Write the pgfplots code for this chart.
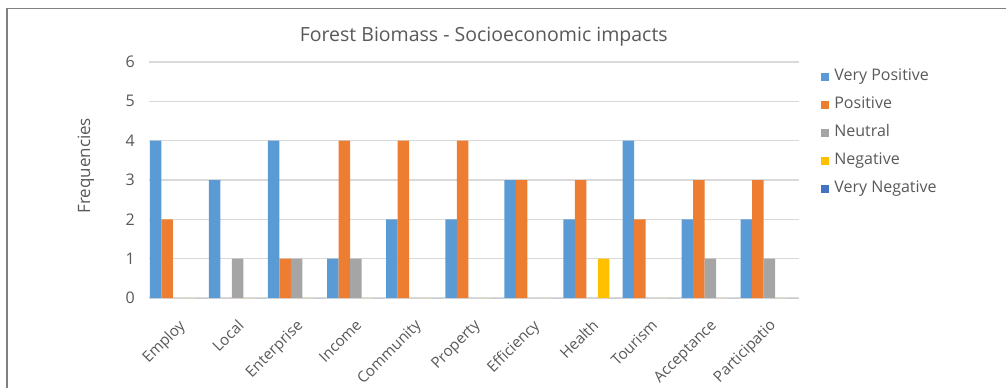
\documentclass[border=0pt]{standalone}
\usepackage{pgfplots}
\pgfplotsset{compat=1.18}
\usepackage{pgfplotstable}
\usepackage{fontspec}
\setmainfont{Open Sans}
\definecolor{cVP}{HTML}{5B9BD5}
\definecolor{cP}{HTML}{ED7D31}
\definecolor{cN}{HTML}{A5A5A5}
\definecolor{cNeg}{HTML}{FFC000}
\definecolor{cVN}{HTML}{4472C4}
\definecolor{txt}{HTML}{595959}
\definecolor{grid}{HTML}{D9D9D9}
\definecolor{frame}{HTML}{808080}
\pgfplotstableread{
x VP P N Neg VN
0 4 2 0 0 0
1 3 0 1 0 0
2 4 1 1 0 0
3 1 4 1 0 0
4 2 4 0 0 0
5 2 4 0 0 0
6 3 3 0 0 0
7 2 3 0 1 0
8 4 2 0 0 0
9 2 3 1 0 0
10 2 3 1 0 0
}\datatable
\begin{document}
\begin{tikzpicture}
\begin{axis}[
  scale only axis,
  width=650bp, height=236bp,
  xmin=-0.5, xmax=10.5,
  ymin=0, ymax=6,
  ytick={0,1,2,3,4,5,6},
  xtick=data,
  xticklabels={Employ,Local,Enterprise,Income,Community,Property,Efficiency,Health,Tourism,Acceptance,Participatio},
  ybar=0pt, bar width=11.5bp,
  ymajorgrids, grid style={color=grid, line width=1.3bp},
  axis line style={draw=none},
  tick style={draw=none},
  /pgf/number format/assume math mode=true,
  yticklabel style={font=\fontsize{16bp}{18bp}\selectfont, text=txt, inner sep=0pt, anchor=east, xshift=-14bp},
  xticklabel style={font=\fontsize{15.2bp}{18bp}\selectfont, text=txt, inner sep=0pt, xshift=-1bp, yshift=-16bp, rotate=45, anchor=north east},
  ylabel={Frequencies},
  ylabel style={font=\fontsize{17bp}{19bp}\selectfont, text=txt, at={(axis description cs:-0.097,0.56)}, anchor=center},
  every axis title shift=0pt,
  title={Forest Biomass - Socioeconomic impacts},
  title style={font=\fontsize{19.5bp}{22bp}\selectfont, text=txt, at={(axis description cs:0.515,1.106)}, anchor=center},
  legend style={at={(axis description cs:1.0295,0.977)}, anchor=north west, draw=none, fill=none,
    font=\fontsize{16bp}{18bp}\selectfont, text=txt, row sep=15bp,
    nodes={inner sep=0pt, text height=11bp, text depth=2bp}},
  legend cell align=left,
  sq/.style={legend image code/.code={\fill[##1] (0bp,-4.5bp) rectangle (8bp,3.5bp);}},
]
\addplot[fill=cVP, draw=none, sq] table[x=x, y=VP] {\datatable};
\addplot[fill=cP, draw=none, sq] table[x=x, y=P] {\datatable};
\addplot[fill=cN, draw=none, sq] table[x=x, y=N] {\datatable};
\addplot[fill=cNeg, draw=none, sq] table[x=x, y=Neg] {\datatable};
\addplot[fill=cVN, draw=none, sq] table[x=x, y=VN] {\datatable};
\legend{\hspace{5bp}Very Positive,\hspace{5bp}Positive,\hspace{5bp}Neutral,\hspace{5bp}Negative,\hspace{5bp}Very Negative}
\end{axis}
\draw[frame, line width=1.5bp] (-142bp,-90bp) -- (-142bp,289.5bp) -- (857bp,289.5bp);
\pgfresetboundingbox
\useasboundingbox (-149bp,-90bp) rectangle (857bp,298bp);
\end{tikzpicture}
\end{document}
